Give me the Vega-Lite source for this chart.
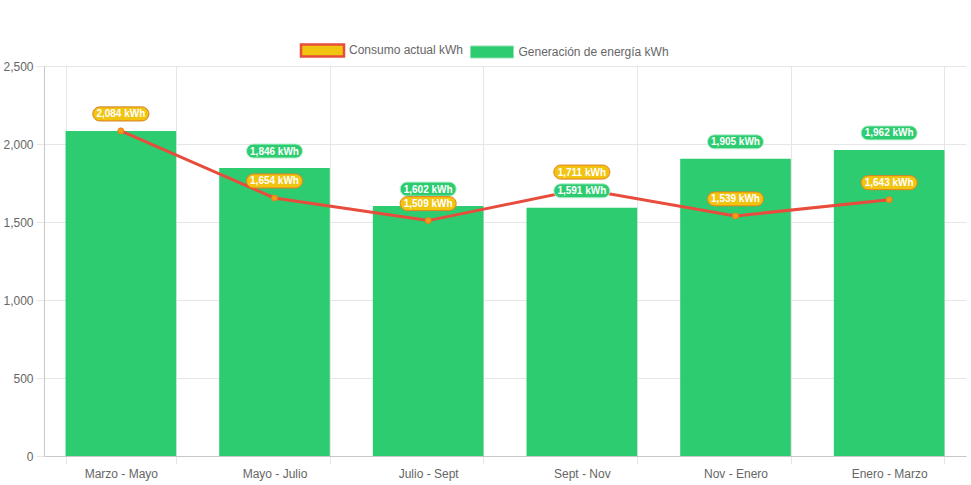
{
  "$schema": "https://vega.github.io/schema/vega-lite/v6.json",
  "width": 922,
  "height": 390,
  "autosize": "none",
  "padding": {"left": 44, "top": 66, "right": 5, "bottom": 29},
  "background": "white",
  "config": {
    "view": {"stroke": null},
    "font": "Liberation Sans",
    "axis": {"labelFont": "Liberation Sans", "labelFontSize": 12, "labelColor": "#666666", "gridColor": "#e6e6e6", "tickColor": "#e6e6e6", "domainColor": "#c8c8c8", "tickSize": 8, "title": null}
  },
  "data": {
    "values": [
      {"periodo": "Marzo - Mayo", "gen": 2084, "cons": 2084, "genLabel": "2,084 kWh", "consLabel": "2,084 kWh"},
      {"periodo": "Mayo - Julio", "gen": 1846, "cons": 1654, "genLabel": "1,846 kWh", "consLabel": "1,654 kWh"},
      {"periodo": "Julio - Sept", "gen": 1602, "cons": 1509, "genLabel": "1,602 kWh", "consLabel": "1,509 kWh"},
      {"periodo": "Sept - Nov", "gen": 1591, "cons": 1711, "genLabel": "1,591 kWh", "consLabel": "1,711 kWh"},
      {"periodo": "Nov - Enero", "gen": 1905, "cons": 1539, "genLabel": "1,905 kWh", "consLabel": "1,539 kWh"},
      {"periodo": "Enero - Marzo", "gen": 1962, "cons": 1643, "genLabel": "1,962 kWh", "consLabel": "1,643 kWh"}
    ]
  },
  "encoding": {
    "x": {
      "field": "periodo", "type": "nominal", "sort": null,
      "scale": {"paddingInner": 0.28, "paddingOuter": 0.14},
      "axis": {"labelAngle": 0, "tickBand": "extent", "grid": true, "labelPadding": 4, "domain": true}
    }
  },
  "layer": [
    {
      "mark": {"type": "bar"},
      "encoding": {
        "y": {"field": "gen", "type": "quantitative", "scale": {"domain": [0, 2500], "nice": false},
          "axis": {"values": [0, 500, 1000, 1500, 2000, 2500], "format": ",.0f", "labelPadding": 3, "grid": true}},
        "fill": {
          "datum": "Generación de energía kWh",
          "scale": {"domain": ["Consumo actual kWh", "Generación de energía kWh"], "range": ["#f1c40f", "#2ecc71"]},
          "legend": {
            "title": null, "orient": "none", "direction": "horizontal",
            "legendX": 272.5, "legendY": -22, "padding": 0,
            "symbolType": "M-1,-0.28L1,-0.28L1,0.28L-1,0.28Z",
            "symbolSize": 1849, "symbolOpacity": 1,
            "labelFont": "Liberation Sans", "labelFontSize": 12, "labelColor": "#666666",
            "labelOffset": 20.5, "columnPadding": 4.5,
            "encode": {"symbols": {"update": {
              "stroke": {"signal": "datum.value === 'Consumo actual kWh' ? '#e74c3c' : '#8fe3b3'"},
              "strokeWidth": {"signal": "datum.value === 'Consumo actual kWh' ? 2.5 : 1"}
            }}}
          }
        }
      }
    },
    {
      "mark": {"type": "line", "color": "#e74c3c", "strokeWidth": 3},
      "encoding": {"y": {"field": "cons", "type": "quantitative"}}
    },
    {
      "mark": {"type": "point", "filled": true, "fill": "#f39c12", "stroke": "#e67e22", "strokeWidth": 1, "size": 36, "opacity": 1},
      "encoding": {"y": {"field": "cons", "type": "quantitative"}}
    },
    {
      "mark": {"type": "point", "shape": "M-0.75,-0.25L0.75,-0.25A0.25,0.25,0,0,1,0.75,0.25L-0.75,0.25A0.25,0.25,0,0,1,-0.75,-0.25Z", "size": 3136, "filled": true, "fill": "#2ecc71", "stroke": "#b8f0cf", "strokeWidth": 1, "opacity": 1, "yOffset": -17},
      "encoding": {"y": {"field": "gen", "type": "quantitative"}}
    },
    {
      "mark": {"type": "text", "color": "white", "font": "Liberation Sans", "fontSize": 10, "fontWeight": "bold", "align": "center", "baseline": "middle", "yOffset": -16.5},
      "encoding": {"y": {"field": "gen", "type": "quantitative"}, "text": {"field": "genLabel"}}
    },
    {
      "mark": {"type": "point", "shape": "M-0.75,-0.25L0.75,-0.25A0.25,0.25,0,0,1,0.75,0.25L-0.75,0.25A0.25,0.25,0,0,1,-0.75,-0.25Z", "size": 3136, "filled": true, "fill": "#f1c40f", "stroke": "#e67e22", "strokeWidth": 1, "opacity": 1, "yOffset": -17},
      "encoding": {"y": {"field": "cons", "type": "quantitative"}}
    },
    {
      "mark": {"type": "text", "color": "white", "font": "Liberation Sans", "fontSize": 10, "fontWeight": "bold", "align": "center", "baseline": "middle", "yOffset": -16.5},
      "encoding": {"y": {"field": "cons", "type": "quantitative"}, "text": {"field": "consLabel"}}
    }
  ]
}
